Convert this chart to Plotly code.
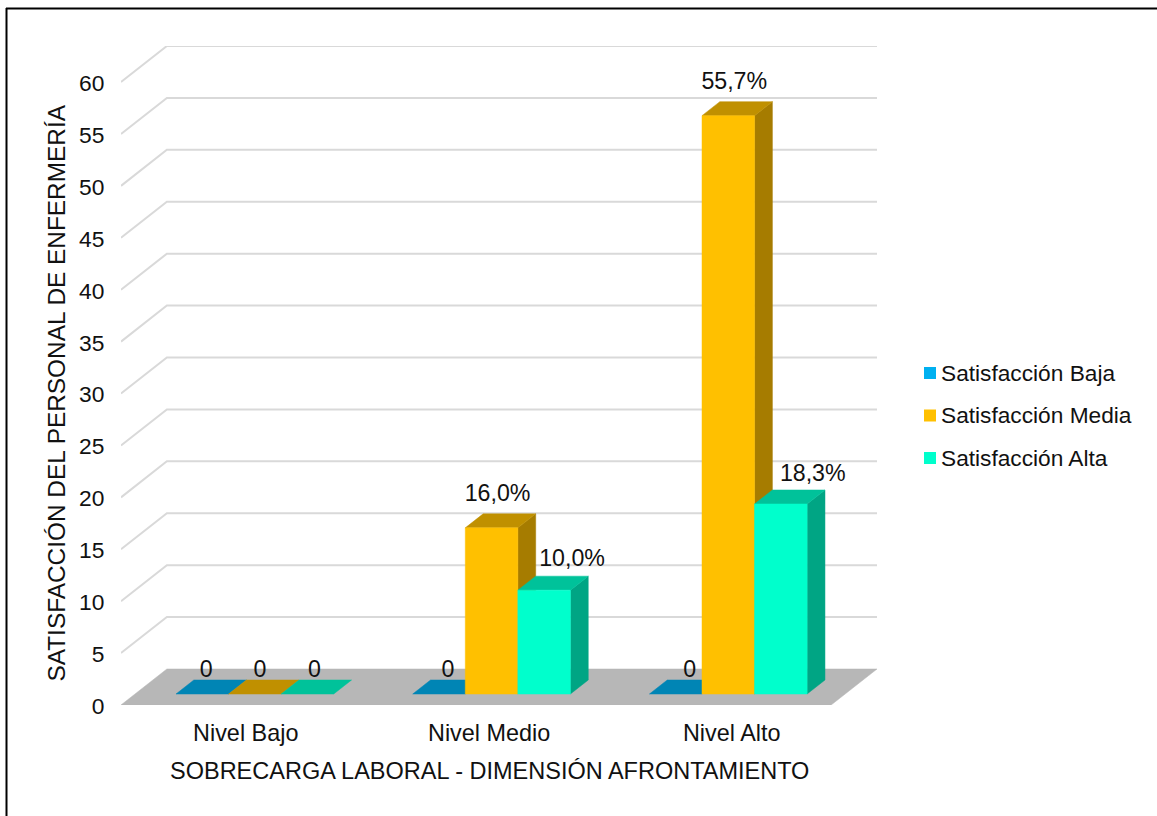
import plotly.graph_objects as go

# Chart data
CATEGORIES = ["Nivel Bajo", "Nivel Medio", "Nivel Alto"]
SERIES_NAMES = ["Satisfacción Baja", "Satisfacción Media", "Satisfacción Alta"]
BAJA = [0, 0, 0]
MEDIA = [0, 16.0, 55.7]
ALTA = [0, 10.0, 18.3]
Y_TICKS = list(range(0, 65, 5))
X_TITLE = "SOBRECARGA LABORAL - DIMENSIÓN AFRONTAMIENTO"
Y_TITLE = "SATISFACCIÓN DEL PERSONAL DE ENFERMERÍA"

# Colours for each series: front, top and side faces
FRONT = ["#00B0F0", "#FFC000", "#00FFCC"]
TOP = ["#0085B5", "#C09000", "#00C29A"]
SIDE = ["#00759F", "#A67C00", "#00A584"]
GRID = "#D9D9D9"
FLOOR = "#B7B7B7"
INK = "#111111"
FONT = "Liberation Sans"

# Page geometry in pixels
W, H = 1157, 816
LEFT, RIGHT, TOP_Y, BOTTOM = 121, 877, 46, 705
PX_PER_CAT = 237.33
PX_PER_UNIT = 10.38

# Oblique projection of the chart box, expressed in axis units
DEPTH_X = 46 / PX_PER_CAT
DEPTH_Y = 36 / PX_PER_UNIT
BAR_WIDTH = 52.7 / PX_PER_CAT
BAR_SHIFT = 1.5 / PX_PER_CAT
BAR_NEAR = 11 / 36
BAR_FAR = 25 / 36

# Label nudges in pixels, one per series and category
LABEL_DX = [[4, 9, 14], [5, 6, 6], [7, 28, 32]]
LABEL_DY = [[23, 23, 23], [23, 32.5, 32], [23, 30, 29]]


def project(x, y, depth):
    return x + depth * DEPTH_X, y + depth * DEPTH_Y


def polygon(corners, color, name):
    pts = [project(*c) for c in corners]
    xs = [p[0] for p in pts] + [pts[0][0]]
    ys = [p[1] for p in pts] + [pts[0][1]]
    return go.Scatter(
        x=xs, y=ys, mode="lines", fill="toself", fillcolor=color,
        line=dict(color=color, width=0.5), name=name,
        showlegend=False, hoverinfo="skip",
    )


fig = go.Figure()

# Floor of the box
fig.add_trace(polygon([(0, 0, 0), (3, 0, 0), (3, 0, 1), (0, 0, 1)], FLOOR, "Piso"))

# Gridlines run along the side wall and then across the back wall
grid_x, grid_y = [], []
for tick in Y_TICKS[1:]:
    for corner in [(0, tick, 0), (0, tick, 1), (3, tick, 1)]:
        px, py = project(*corner)
        grid_x.append(px)
        grid_y.append(py)
    grid_x.append(None)
    grid_y.append(None)
fig.add_trace(go.Scatter(
    x=grid_x, y=grid_y, mode="lines", line=dict(color=GRID, width=2),
    showlegend=False, hoverinfo="skip", name="Rejilla",
))

# Bars are painted left to right so nearer faces cover the ones behind
label_x, label_y, label_text = [], [], []
series_values = [BAJA, MEDIA, ALTA]
for c, _ in enumerate(CATEGORIES):
    center = c + 0.5 + BAR_SHIFT
    for s, values in enumerate(series_values):
        v = values[c]
        x0 = center + (s - 1.5) * BAR_WIDTH
        x1 = x0 + BAR_WIDTH
        name = SERIES_NAMES[s]
        if v > 0:
            fig.add_trace(polygon(
                [(x1, 0, BAR_NEAR), (x1, 0, BAR_FAR), (x1, v, BAR_FAR), (x1, v, BAR_NEAR)],
                SIDE[s], name))
        fig.add_trace(polygon(
            [(x0, v, BAR_NEAR), (x1, v, BAR_NEAR), (x1, v, BAR_FAR), (x0, v, BAR_FAR)],
            TOP[s], name))
        if v > 0:
            fig.add_trace(polygon(
                [(x0, 0, BAR_NEAR), (x1, 0, BAR_NEAR), (x1, v, BAR_NEAR), (x0, v, BAR_NEAR)],
                FRONT[s], name))
        bx, by = project((x0 + x1) / 2, v, BAR_NEAR)
        label_x.append(bx + LABEL_DX[s][c] / PX_PER_CAT)
        label_y.append(by + LABEL_DY[s][c] / PX_PER_UNIT)
        label_text.append("0" if v == 0 else f"{v:.1f}%".replace(".", ","))

# Value labels
fig.add_trace(go.Scatter(
    x=label_x, y=label_y, text=label_text, mode="text",
    textposition="middle center",
    textfont=dict(family=FONT, size=23.2, color=INK),
    showlegend=False, hoverinfo="skip", cliponaxis=False, name="Valores",
))


def page_x(px):
    return (px - LEFT) / (RIGHT - LEFT)


def page_y(py):
    return (BOTTOM - py) / (BOTTOM - TOP_Y)


# Frame: only the top and left edges are ruled
shapes = [
    dict(type="line", xref="paper", yref="paper", layer="above",
         x0=page_x(6), x1=page_x(1157), y0=page_y(8.5), y1=page_y(8.5),
         line=dict(color="#000000", width=2)),
    dict(type="line", xref="paper", yref="paper", layer="above",
         x0=page_x(6.5), x1=page_x(6.5), y0=page_y(8), y1=page_y(816),
         line=dict(color="#000000", width=2)),
]

annotations = [
    dict(text=X_TITLE, x=page_x(489), y=page_y(771), xref="paper", yref="paper",
         showarrow=False, xanchor="center", yanchor="middle",
         font=dict(family=FONT, size=23.5, color=INK)),
    dict(text=Y_TITLE, x=page_x(56), y=page_y(393.5), xref="paper", yref="paper",
         showarrow=False, xanchor="center", yanchor="middle", textangle=-90,
         font=dict(family=FONT, size=24.4, color=INK)),
]

# Legend: swatches and labels stacked to the right of the box
for i, name in enumerate(SERIES_NAMES):
    row_y = 373 + i * 42.5
    shapes.append(dict(
        type="rect", xref="paper", yref="paper", layer="above",
        x0=page_x(924), x1=page_x(936), y0=page_y(row_y + 6), y1=page_y(row_y - 6),
        fillcolor=FRONT[i], line=dict(width=0),
    ))
    annotations.append(dict(
        text=name, x=page_x(939), y=page_y(row_y), xref="paper", yref="paper",
        showarrow=False, xanchor="left", yanchor="middle",
        font=dict(family=FONT, size=22.7, color=INK),
    ))

fig.update_layout(
    width=W, height=H,
    margin=dict(l=LEFT, r=W - RIGHT, t=TOP_Y, b=H - BOTTOM, pad=0),
    paper_bgcolor="white", plot_bgcolor="white",
    showlegend=False,
    xaxis=dict(
        range=[0, 3 + DEPTH_X], showgrid=False, zeroline=False, showline=False,
        tickmode="array", tickvals=[0.527, 1.555, 2.58], ticktext=CATEGORIES,
        ticks="outside", ticklen=7, tickcolor="rgba(0,0,0,0)",
        tickfont=dict(family=FONT, size=23.4, color=INK),
    ),
    yaxis=dict(
        range=[0, 60 + DEPTH_Y], showgrid=False, zeroline=False, showline=False,
        tickmode="array", tickvals=Y_TICKS, ticktext=[str(t) for t in Y_TICKS],
        ticks="outside", ticklen=11, tickcolor="rgba(0,0,0,0)", ticklabelshift=1,
        tickfont=dict(family=FONT, size=22.8, color=INK),
    ),
    shapes=shapes, annotations=annotations,
)

fig.write_html("out.html", config=dict(displayModeBar=False))
